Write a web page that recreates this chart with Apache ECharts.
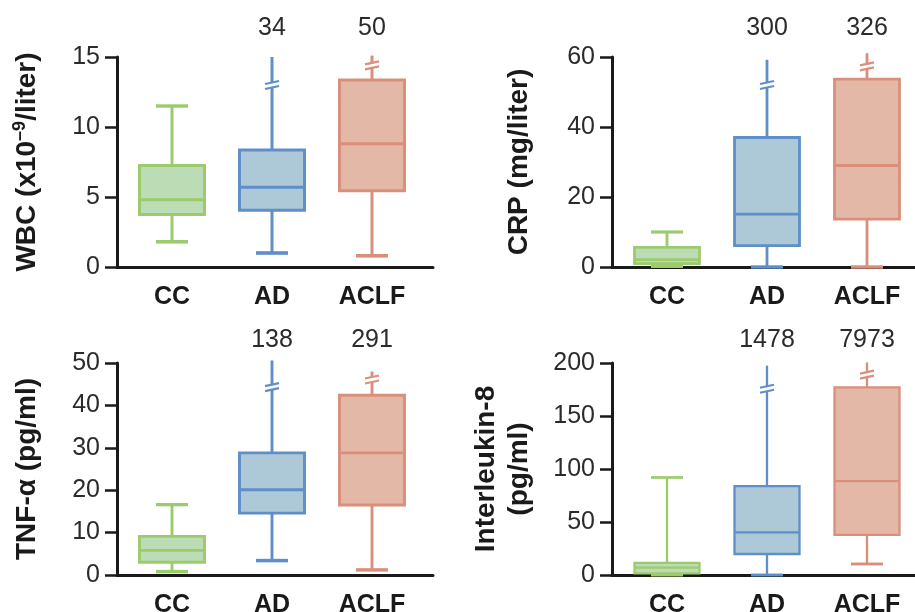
<!DOCTYPE html>
<html><head><meta charset="utf-8">
<script src="https://cdn.jsdelivr.net/npm/echarts@6/dist/echarts.min.js"></script>
<style>html,body{margin:0;padding:0;background:#fff}#c{width:915px;height:612px}</style>
</head><body><div id="c"></div>
<script>
// ---- data ----
const groups = ['CC', 'AD', 'ACLF'];
const groupPos = [1, 2, 3];
// each entry: [lower whisker, Q1, median, Q3, upper whisker end]
const wbcStats = [[1.8, 3.75, 4.8, 7.25, 11.5], [1.0, 4.05, 5.7, 8.35, 15.0], [0.8, 5.45, 8.8, 13.35, 15.1]];
const wbcBreaks = [null, 13.0, 14.4];
const wbcMaxLabels = ['', '34', '50'];

const crpStats = [[0.2, 0.95, 2.1, 5.6, 10.0], [0, 6.1, 15.1, 37.0, 59.2], [0, 13.7, 29.0, 53.7, 61.1]];
const crpBreaks = [null, 52, 57.3];
const crpMaxLabels = ['', '300', '326'];

const tnfStats = [[0.8, 3.0, 5.8, 9.1, 16.6], [3.4, 14.6, 20.1, 28.8, 50.6], [1.2, 16.5, 28.8, 42.4, 48.0]];
const tnfBreaks = [null, 44.3, 46.1];
const tnfMaxLabels = ['', '138', '291'];

const il8Stats = [[0, 1.6, 6.9, 11.5, 92], [0, 19.8, 40.3, 83.8, 197.5], [10.4, 37.8, 88.5, 177, 200.6]];
const il8Breaks = [null, 175.7, 189];
const il8MaxLabels = ['', '1478', '7973'];

const yAxisMax = [15, 60, 50, 200];
const yAxisStep = [5, 20, 10, 50];
const yTitles = ['WBC (x10{sup|\u20139}/liter)', 'CRP (mg/liter)', 'TNF-\u03B1 (pg/ml)', 'Interleukin-8\n(pg/ml)'];

// ---- styles ----
const colors = [
  { stroke: '#9ccb6e', fill: '#bcdcb5' },
  { stroke: '#5f8ec9', fill: '#adc8d7' },
  { stroke: '#d98f7b', fill: '#e4b8a7' }
];
const FONT = '"Liberation Sans", Arial, sans-serif';
const axisColor = '#1a1a1a';
const textColor = '#2b2b2b';

const layouts = [
  { left: 117, top: 57, width: 316, height: 210, labelOffset: 29, lw: 3 },
  { left: 612, top: 57, width: 303, height: 210, labelOffset: 29, lw: 2.8 },
  { left: 117, top: 363, width: 316, height: 212, labelOffset: 23, lw: 2.9 },
  { left: 612, top: 363, width: 303, height: 212, labelOffset: 23, lw: 2.3 }
];
const panelData = [
  { stats: wbcStats, breaks: wbcBreaks, labels: wbcMaxLabels },
  { stats: crpStats, breaks: crpBreaks, labels: crpMaxLabels },
  { stats: tnfStats, breaks: tnfBreaks, labels: tnfMaxLabels },
  { stats: il8Stats, breaks: il8Breaks, labels: il8MaxLabels }
];

function makeRender(pi) {
  const L = layouts[pi];
  const labels = panelData[pi].labels;
  return function (params, api) {
    const x = api.value(0);
    const vals = [1, 2, 3, 4, 5].map(d => api.value(d));
    const br = api.value(6);
    const idx = api.value(7);
    const c = colors[idx];
    const pts = vals.map(v => api.coord([x, v]));
    const cx = pts[0][0];
    const [yMin, yQ1, yMed, yQ3, yMax] = pts.map(p => p[1]);
    const bw = 65, cw = 32, lw = L.lw;
    const ln = (x1, y1, x2, y2, w, col) => ({
      type: 'line', shape: { x1, y1, x2, y2 },
      style: { stroke: col || c.stroke, lineWidth: w || lw, lineCap: 'butt' }
    });
    const children = [];
    children.push(ln(cx, yMin, cx, yQ1));
    children.push(ln(cx, yQ3, cx, yMax));
    children.push({
      type: 'rect', shape: { x: cx - bw / 2, y: yQ3, width: bw, height: yQ1 - yQ3 },
      style: { fill: c.fill, stroke: c.stroke, lineWidth: lw }
    });
    children.push(ln(cx - bw / 2, yMed, cx + bw / 2, yMed));
    children.push(ln(cx - cw / 2, yMin, cx + cw / 2, yMin, lw + 0.6));
    if (br < 0) {
      children.push(ln(cx - cw / 2, yMax, cx + cw / 2, yMax, lw + 0.4));
    } else {
      const yb = api.coord([x, br])[1];
      children.push({ type: 'rect', shape: { x: cx - 3, y: yb - 2.5, width: 6, height: 5 }, style: { fill: '#ffffff' } });
      children.push(ln(cx - 7, yb - 1, cx + 7, yb - 4, 2.2));
      children.push(ln(cx - 7, yb + 4, cx + 7, yb + 1, 2.2));
    }
    const lbl = labels[idx];
    if (lbl) {
      const topY = api.coord([x, yAxisMax[pi]])[1] - L.labelOffset;
      children.push({
        type: 'text', x: cx, y: topY,
        style: { text: lbl, font: '25px ' + FONT, fill: textColor, align: 'center', verticalAlign: 'middle' }
      });
    }
    return { type: 'group', children };
  };
}

const grid = [], xAxis = [], yAxis = [], series = [];
layouts.forEach((L, i) => {
  grid.push({ left: L.left, top: L.top, width: L.width, height: L.height, containLabel: false, outerBoundsMode: 'none' });
  xAxis.push({
    type: 'value', gridIndex: i, min: 0.45, max: 0.45 + L.width / 100,
    axisLine: { show: true, onZero: false, lineStyle: { color: axisColor, width: 3 } },
    axisTick: { show: false }, splitLine: { show: false },
    axisLabel: {
      customValues: groupPos, formatter: v => groups[Math.round(v) - 1] || '',
      fontFamily: FONT, fontSize: 25, fontWeight: 'bold', color: axisColor, margin: 18
    }
  });
  yAxis.push({
    type: 'value', gridIndex: i, min: 0, max: yAxisMax[i], interval: yAxisStep[i],
    axisLine: { show: true, onZero: false, lineStyle: { color: axisColor, width: 3 } },
    axisTick: { show: true, inside: false, length: 12, lineStyle: { color: axisColor, width: 2.5 } },
    splitLine: { show: false },
    axisLabel: { fontFamily: FONT, fontSize: 25, color: textColor, margin: 17 },
    name: yTitles[i], nameLocation: 'middle', nameRotate: 90, nameGap: (i % 2 === 0) ? 73 : 76,
    nameTextStyle: {
      fontFamily: FONT, fontSize: 28, fontWeight: 'bold', color: axisColor, lineHeight: 33,
      rich: { sup: { fontFamily: FONT, fontSize: 18, fontWeight: 'bold', color: axisColor, verticalAlign: 'top', lineHeight: 18 } }
    }
  });
  const pd = panelData[i];
  series.push({
    type: 'custom', xAxisIndex: i, yAxisIndex: i, clip: false, z: 5,
    renderItem: makeRender(i),
    encode: { x: 0, y: [1, 2, 3, 4, 5] },
    data: pd.stats.map((s, k) => [groupPos[k], ...s, pd.breaks[k] == null ? -1 : pd.breaks[k], k])
  });
});

const chart = echarts.init(document.getElementById('c'), null, { renderer: 'canvas' });
chart.setOption({ backgroundColor: '#ffffff', animation: false, grid, xAxis, yAxis, series });
</script></body></html>
